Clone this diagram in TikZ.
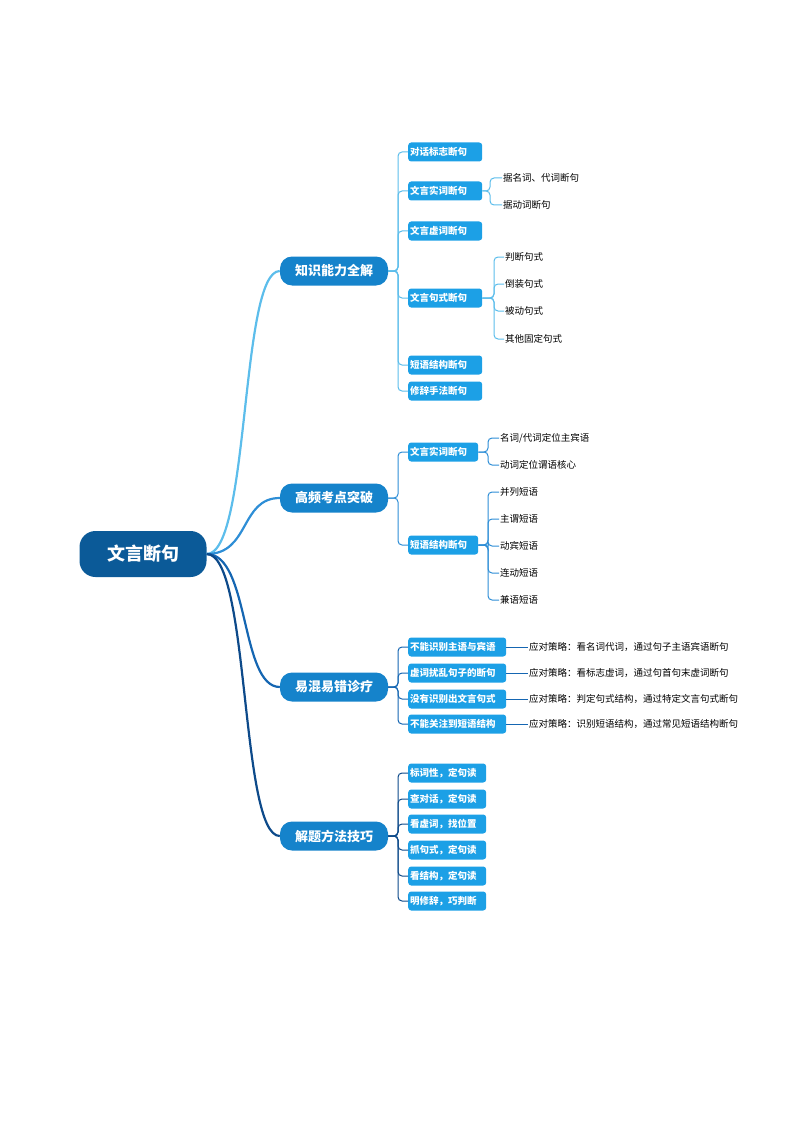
\documentclass[tikz,border=0pt]{standalone}
\usepackage{fontspec}
\setmainfont{Noto Sans CJK SC}
\begin{document}
\begin{tikzpicture}[x=1pt,y=-1pt,
 root/.style={rounded corners=16pt,fill=rootc,text=white,font=\fontsize{18}{20}\selectfont\bfseries,minimum width=127pt,minimum height=46pt,inner sep=0pt},
 main/.style={rounded corners=12pt,fill=mainc,text=white,font=\fontsize{13}{15}\selectfont\bfseries,minimum width=108pt,minimum height=29pt,inner sep=0pt},
 sub/.style={rounded corners=3pt,fill=subc,text=white,font=\fontsize{9.5}{11}\selectfont\bfseries,minimum height=19pt,inner xsep=2pt,inner ysep=0pt,anchor=west,align=left,text width=#1},
 leaf/.style={font=\fontsize{9.5}{11}\selectfont,anchor=west,inner sep=1pt},
 br/.style={rounded corners=4pt,line width=1pt}]
\definecolor{rootc}{HTML}{0B5A98}
\definecolor{mainc}{HTML}{1583CB}
\definecolor{subc}{HTML}{1CA0E6}
\definecolor{c1}{HTML}{5CBDEB}
\definecolor{c2}{HTML}{2E8ED6}
\definecolor{c3}{HTML}{1566B2}
\definecolor{c4}{HTML}{0D4A8A}
\useasboundingbox (0,0) rectangle (794,1123);
\node[root] (r) at (143,554) {文言断句};
\node[main] (m1) at (334,271) {知识能力全解};
\node[main] (m2) at (334,498) {高频考点突破};
\node[main] (m3) at (334,687) {易混易错诊疗};
\node[main] (m4) at (334,836) {解题方法技巧};
\draw[c1,line width=2.2pt] (r.east) .. controls (250,554) and (240,271) .. (m1.west);
\draw[c2,line width=2.2pt] (r.east) .. controls (250,554) and (240,498) .. (m2.west);
\draw[c3,line width=2.2pt] (r.east) .. controls (250,554) and (240,687) .. (m3.west);
\draw[c4,line width=2.2pt] (r.east) .. controls (250,554) and (240,836) .. (m4.west);
% group 1
\node[sub=70pt] (a1) at (408,152) {对话标志断句};
\node[sub=70pt] (a2) at (408,191) {文言实词断句};
\node[sub=70pt] (a3) at (408,231) {文言虚词断句};
\node[sub=70pt] (a4) at (408,298) {文言句式断句};
\node[sub=70pt] (a5) at (408,365) {短语结构断句};
\node[sub=70pt] (a6) at (408,391) {修辞手法断句};
\foreach \c in {a1,a2,a3,a4,a5,a6} \draw[br,c1] (m1.east) -- (398,271) |- (\c.west);
\node[leaf] (b1) at (502,178) {据名词、代词断句};
\node[leaf] (b2) at (502,205) {据动词断句};
\foreach \c in {b1,b2} \draw[br,c1] (a2.east) -- (490,191) |- (\c.west);
\node[leaf] (b3) at (504,257) {判断句式};
\node[leaf] (b4) at (504,284) {倒装句式};
\node[leaf] (b5) at (504,311) {被动句式};
\node[leaf] (b6) at (504,339) {其他固定句式};
\foreach \c in {b3,b4,b5,b6} \draw[br,c1] (a4.east) -- (494,298) |- (\c.west);
% group 2
\node[sub=66pt] (d1) at (408,452) {文言实词断句};
\node[sub=66pt] (d2) at (408,545) {短语结构断句};
\foreach \c in {d1,d2} \draw[br,c2] (m2.east) -- (398,498) |- (\c.west);
\node[leaf] (e1) at (499,438) {名词/代词定位主宾语};
\node[leaf] (e2) at (499,465) {动词定位谓语核心};
\foreach \c in {e1,e2} \draw[br,c2] (d1.east) -- (488,452) |- (\c.west);
\node[leaf] (e3) at (499,492) {并列短语};
\node[leaf] (e4) at (499,519) {主谓短语};
\node[leaf] (e5) at (499,546) {动宾短语};
\node[leaf] (e6) at (499,573) {连动短语};
\node[leaf] (e7) at (499,600) {兼语短语};
\foreach \c in {e3,e4,e5,e6,e7} \draw[br,c2] (d2.east) -- (488,545) |- (\c.west);
% group 3
\node[sub=94pt] (f1) at (408,647) {不能识别主语与宾语};
\node[sub=94pt] (f2) at (408,673) {虚词扰乱句子的断句};
\node[sub=94pt] (f3) at (408,699) {没有识别出文言句式};
\node[sub=94pt] (f4) at (408,724) {不能关注到短语结构};
\foreach \c in {f1,f2,f3,f4} \draw[br,c3] (m3.east) -- (398,687) |- (\c.west);
\node[leaf] (g1) at (528,647) {应对策略：看名词代词，通过句子主语宾语断句};
\node[leaf] (g2) at (528,673) {应对策略：看标志虚词，通过句首句末虚词断句};
\node[leaf] (g3) at (528,699) {应对策略：判定句式结构，通过特定文言句式断句};
\node[leaf] (g4) at (528,724) {应对策略：识别短语结构，通过常见短语结构断句};
\foreach \i in {1,2,3,4} \draw[c3,line width=1pt] (f\i.east) -- (g\i.west);
% group 4
\node[sub=74pt] (h1) at (408,773) {标词性，定句读};
\node[sub=74pt] (h2) at (408,799) {查对话，定句读};
\node[sub=74pt] (h3) at (408,824) {看虚词，找位置};
\node[sub=74pt] (h4) at (408,850) {抓句式，定句读};
\node[sub=74pt] (h5) at (408,876) {看结构，定句读};
\node[sub=74pt] (h6) at (408,901) {明修辞，巧判断};
\foreach \c in {h1,h2,h3,h4,h5,h6} \draw[br,c4] (m4.east) -- (398,836) |- (\c.west);
\end{tikzpicture}
\end{document}
